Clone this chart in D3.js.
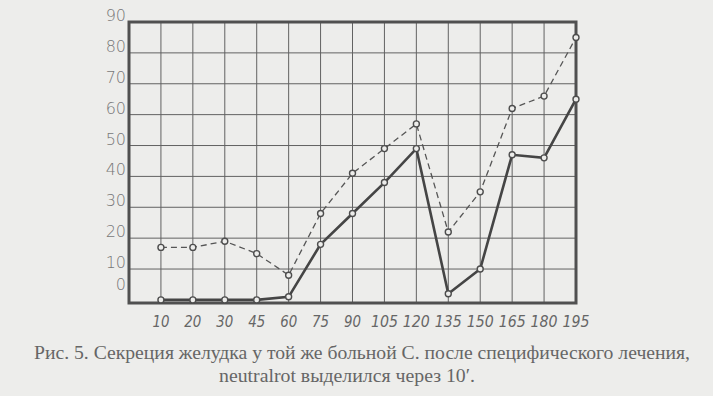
<!DOCTYPE html>
<html lang="ru">
<head>
<meta charset="utf-8">
<title>Рис. 5. Секреция желудка</title>
<script src="https://d3js.org/d3.v7.min.js"></script>
<style>
  body { margin: 0; background: #ededeb; }
  svg { display: block; }
</style>
</head>
<body>
<div id="chart"></div>
<script>
// minutes after the trial breakfast
var minutes = ["10", "20", "30", "45", "60", "75", "90", "105", "120", "135", "150", "165", "180", "195"];
// dashed curve (upper) and solid curve (lower)
var dashedValues = [17, 17, 19, 15, 8, 28, 41, 49, 57, 22, 35, 62, 66, 85];
var solidValues = [0, 0, 0, 0, 1, 18, 28, 38, 49, 2, 10, 47, 46, 65];
var yTicks = [0, 10, 20, 30, 40, 50, 60, 70, 80, 90];

var captionLine1 = "Рис. 5. Секреция желудка у той же больной С. после  специфического лечения,";
var captionLine2 = "neutralrot выделился через 10′.";

var W = 713, H = 396;
var ink = "#4d4d4d";

var svg = d3.select("#chart").append("svg")
    .attr("width", W)
    .attr("height", H);

svg.append("rect").attr("width", W).attr("height", H).attr("fill", "#ededeb");

// index based x scale, one empty column left of the first reading
var x = d3.scaleLinear().domain([-1, minutes.length - 1]).range([129, 576]);
var y = d3.scaleLinear().domain([-1, 90]).range([303, 22]);

var plotLeft = x(-1), plotRight = x(minutes.length - 1),
    plotTop = y(90), plotBottom = y(-1);

// grid
var grid = svg.append("g").attr("stroke", "#626262").attr("stroke-width", 1);
grid.selectAll("line.h")
    .data(yTicks.filter(function(t) { return t > 0 && t < 90; }))
    .enter().append("line")
    .attr("x1", plotLeft).attr("x2", plotRight)
    .attr("y1", function(d) { return y(d); })
    .attr("y2", function(d) { return y(d); });
grid.selectAll("line.v")
    .data(d3.range(minutes.length - 1))
    .enter().append("line")
    .attr("x1", function(i) { return x(i); })
    .attr("x2", function(i) { return x(i); })
    .attr("y1", plotTop).attr("y2", plotBottom);

// frame
svg.append("rect")
    .attr("x", plotLeft).attr("y", plotTop)
    .attr("width", plotRight - plotLeft).attr("height", plotBottom - plotTop)
    .attr("fill", "none")
    .attr("stroke", "#505050")
    .attr("stroke-width", 3);

// y labels
svg.append("g").selectAll("text")
    .data(yTicks)
    .enter().append("text")
    .attr("x", plotLeft - 3)
    .attr("y", function(d) { return y(d) - (d === 0 ? 10 : 1); })
    .attr("text-anchor", "end")
    .attr("font-family", "DejaVu Sans, sans-serif")
    .attr("font-weight", 300)
    .attr("font-size", 16)
    .attr("fill", "#777")
    .text(function(d) { return d; });

// x labels
svg.append("g").selectAll("text")
    .data(minutes)
    .enter().append("text")
    .attr("x", function(d, i) { return x(i); })
    .attr("y", 327)
    .attr("text-anchor", "middle")
    .attr("font-family", "'DejaVu Sans Condensed', 'Liberation Sans Narrow', sans-serif")
    .attr("font-style", "italic")
    .attr("font-size", 16)
    .attr("fill", "#666")
    .attr("textLength", function(d) { return d.length > 2 ? 27 : 17; })
    .attr("lengthAdjust", "spacingAndGlyphs")
    .text(function(d) { return d; });

var line = d3.line()
    .x(function(d, i) { return x(i); })
    .y(function(d) { return y(d); });

svg.append("path")
    .datum(dashedValues)
    .attr("d", line)
    .attr("fill", "none")
    .attr("stroke", "#555")
    .attr("stroke-width", 1.3)
    .attr("stroke-dasharray", "6,4");

svg.append("path")
    .datum(solidValues)
    .attr("d", line)
    .attr("fill", "none")
    .attr("stroke", "#454545")
    .attr("stroke-width", 2.6);

[dashedValues, solidValues].forEach(function(vals) {
    svg.append("g").selectAll("circle")
        .data(vals)
        .enter().append("circle")
        .attr("cx", function(d, i) { return x(i); })
        .attr("cy", function(d) { return y(d); })
        .attr("r", 3)
        .attr("fill", "#ededeb")
        .attr("stroke", ink)
        .attr("stroke-width", 1.4);
});

// caption
svg.append("text")
    .attr("x", 34).attr("y", 359)
    .attr("textLength", 656)
    .attr("lengthAdjust", "spacingAndGlyphs")
    .attr("font-family", "Liberation Serif, serif")
    .attr("font-size", 18)
    .attr("fill", "#666")
    .text(captionLine1);

svg.append("text")
    .attr("x", 219).attr("y", 382)
    .attr("textLength", 256)
    .attr("lengthAdjust", "spacingAndGlyphs")
    .attr("font-family", "Liberation Serif, serif")
    .attr("font-size", 18)
    .attr("fill", "#666")
    .text(captionLine2);
</script>
</body>
</html>
